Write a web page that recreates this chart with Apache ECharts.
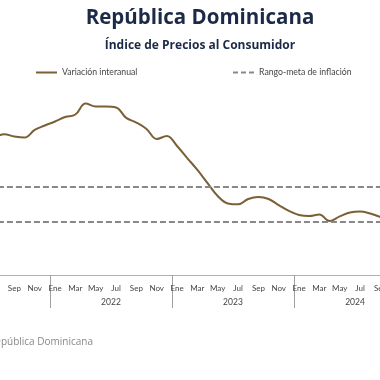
<!DOCTYPE html>
<html>
<head>
<meta charset="utf-8">
<script src="https://cdn.jsdelivr.net/npm/echarts@6/dist/echarts.min.js"></script>
<style>html,body{margin:0;padding:0;background:#fff;overflow:hidden;width:380px;height:380px;}
#c{position:absolute;left:-20px;top:0;width:420px;height:380px;}</style>
</head>
<body>
<div id="c"></div>
<script>
const periods = [
  'Jul 2021','Ago 2021','Sep 2021','Oct 2021','Nov 2021','Dic 2021',
  'Ene 2022','Feb 2022','Mar 2022','Abr 2022','May 2022','Jun 2022','Jul 2022','Ago 2022','Sep 2022','Oct 2022','Nov 2022','Dic 2022',
  'Ene 2023','Feb 2023','Mar 2023','Abr 2023','May 2023','Jun 2023','Jul 2023','Ago 2023','Sep 2023','Oct 2023','Nov 2023','Dic 2023',
  'Ene 2024','Feb 2024','Mar 2024','Abr 2024','May 2024','Jun 2024','Jul 2024','Ago 2024','Sep 2024'
];
const shownMonths = ['Ene','Mar','May','Jul','Sep','Nov'];
const yearLabels = ['2022','2023','2024'];
const inflation = [
  7.70, 7.93, 7.80, 7.74, 8.17, 8.42,
  8.65, 8.90, 9.04, 9.66, 9.49, 9.49, 9.44, 8.85, 8.59, 8.23, 7.66, 7.83,
  7.27, 6.59, 5.92, 5.18, 4.45, 4.03, 3.98, 4.28, 4.39, 4.28, 3.94, 3.61,
  3.38, 3.32, 3.41, 3.04, 3.30, 3.52, 3.58, 3.46, 3.27
];
const targetLow = 3;
const targetHigh = 5;

const yearMid = yearLabels.map(y => periods.indexOf('Ene ' + y) + 5.5);
const font = 'Lato, "Open Sans", sans-serif';
const titleFont = '"Open Sans", Lato, sans-serif';
const OFF = 20; // container is shifted left by this many px

const chart = echarts.init(document.getElementById('c'), null, {renderer: 'canvas'});
chart.setOption({
  animation: false,
  backgroundColor: '#fff',
  title: {
    text: 'República Dominicana',
    subtext: 'Índice de Precios al Consumidor',
    left: 195 + OFF, top: 3, textAlign: 'center', itemGap: 11,
    textStyle: {fontFamily: titleFont, fontWeight: 'bold', fontSize: 20.5, color: '#1b2a47'},
    subtextStyle: {fontFamily: titleFont, fontWeight: 'bold', fontSize: 12, color: '#1b2a47'}
  },
  legend: [
    {data: ['Variación interanual'], left: 31 + OFF, top: 63, itemWidth: 21, itemHeight: 2, itemGap: 4,
     icon: 'rect',
     textStyle: {fontFamily: font, fontSize: 8.7, color: '#444'}},
    {data: ['Rango-meta de inflación'], left: 228 + OFF, top: 63, itemWidth: 21, itemHeight: 2, itemGap: 4,
     icon: 'path://M0,0h5v2h-5z M8,0h5v2h-5z M16,0h5v2h-5z',
     textStyle: {fontFamily: font, fontSize: 8.7, color: '#444'}}
  ],
  grid: {left: -11.07 + OFF, right: 420 - (385.5 + OFF), top: 97.5, bottom: 105, containLabel: false},
  xAxis: [
    {
      type: 'category', data: periods, boundaryGap: true,
      axisLine: {show: true, lineStyle: {color: '#b0b0b0', width: 1}},
      axisTick: {show: true, length: 33, lineStyle: {color: '#a0a0a0'},
        interval: (i) => periods[i].startsWith('Ene')},
      axisLabel: {fontFamily: font, fontSize: 8, color: '#444', margin: 9,
        interval: (i) => shownMonths.includes(periods[i].split(' ')[0]),
        formatter: (v) => v.split(' ')[0]}
    },
    {
      type: 'value', position: 'bottom', min: -0.5, max: periods.length - 0.5,
      axisLine: {show: false}, axisTick: {show: false}, splitLine: {show: false},
      axisLabel: {fontFamily: font, fontSize: 8.5, color: '#444', margin: 23,
        customValues: yearMid,
        formatter: (v) => yearLabels[yearMid.indexOf(v)] || ''}
    }
  ],
  yAxis: {type: 'value', min: 0, max: 10, show: false, splitLine: {show: false}},
  series: [
    {
      name: 'Variación interanual', type: 'line', data: inflation, smooth: 0.4,
      symbol: 'none', xAxisIndex: 0,
      lineStyle: {color: '#7a5f37', width: 2}, itemStyle: {color: '#7a5f37'}
    },
    {
      name: 'Rango-meta de inflación', type: 'line', data: [], symbol: 'none', xAxisIndex: 0,
      lineStyle: {color: '#888', width: 2, type: [6, 3]}, itemStyle: {color: '#888'},
      markLine: {
        silent: true, symbol: 'none', label: {show: false},
        lineStyle: {color: '#888', width: 2, type: [6, 3]},
        data: [{yAxis: targetLow}, {yAxis: targetHigh}]
      }
    }
  ],
  graphic: [{
    type: 'text', x: 93 + OFF, y: 342,
    style: {text: 'Fuente: Banco Central de la República Dominicana', align: 'right', verticalAlign: 'middle',
      font: '10px ' + titleFont, fill: '#888'}
  }]
});
</script>
</body>
</html>
